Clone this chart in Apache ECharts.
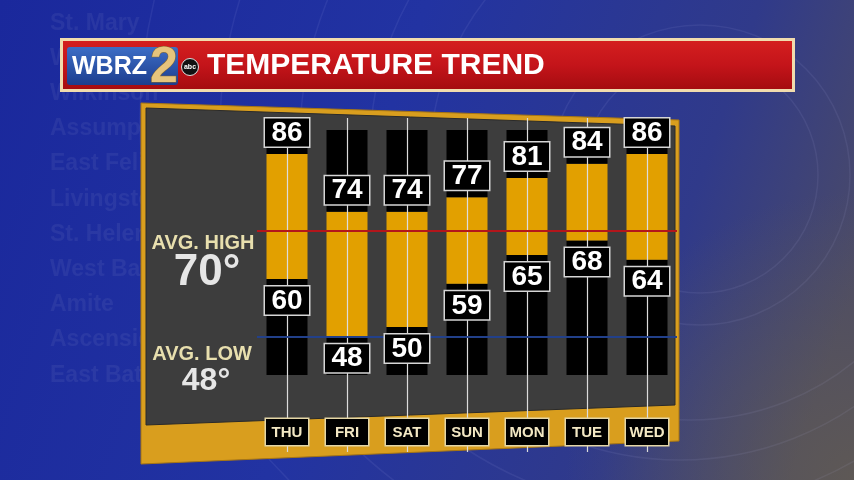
<!DOCTYPE html>
<html><head><meta charset="utf-8">
<script src="https://cdn.jsdelivr.net/npm/echarts@6/dist/echarts.min.js"></script>
<style>html,body{margin:0;padding:0;background:#1b2a9b;}#c{width:854px;height:480px;}</style>
</head><body><div id="c"></div>
<script>
// ---- data ----
const days = ['THU','FRI','SAT','SUN','MON','TUE','WED'];
const highs = [86, 74, 74, 77, 81, 84, 86];
const lows  = [60, 48, 50, 59, 65, 68, 64];
const avgHigh = 70;
const avgLow = 48;
const titleText = 'TEMPERATURE TREND';
const parishes = ['Pointe Coupee','St. Mary','West Feliciana','Wilkinson','Assumption','East Feliciana','Livingston','St. Helena','West Baton Rouge','Amite','Ascension','East Baton Rouge'];
const colBottom = 40, colTop = 91; // black column extent (temperature units)

const chart = echarts.init(document.getElementById('c'), null, {renderer:'canvas'});
const FONT = '"Liberation Sans", Arial, sans-serif';

const graphics = [];
// background
graphics.push({type:'rect', z:-30, shape:{x:0,y:0,width:854,height:480},
  style:{fill:new echarts.graphic.LinearGradient(0,0,1,0.6,[
    {offset:0,color:'#1a289c'},{offset:0.45,color:'#2233a2'},{offset:0.8,color:'#303a8a'},{offset:1,color:'#4a4a68'}])}});
graphics.push({type:'rect', z:-29, shape:{x:0,y:0,width:854,height:480},
  style:{fill:new echarts.graphic.RadialGradient(1,1,0.6,[
    {offset:0,color:'rgba(110,100,70,0.55)'},{offset:1,color:'rgba(110,100,70,0)'}])}});
// faint arcs
[[700,175,118],[700,175,150],[690,160,260],[680,150,310],[670,140,370],[660,130,440],[650,120,510]].forEach(a=>{
  graphics.push({type:'circle', z:-28, shape:{cx:a[0],cy:a[1],r:a[2]},
    style:{fill:null, stroke:'rgba(200,200,255,0.08)', lineWidth:1.5}});
});
// ghost parish names
parishes.forEach((p,i)=>{
  graphics.push({type:'text', z:-27, style:{x:50, y:-12+i*35.2, text:p, fill:'rgba(255,255,255,0.06)',
    font:'bold 23px '+FONT, textVerticalAlign:'middle'}});
});
// title bar
graphics.push({type:'rect', z:-20, shape:{x:60,y:38,width:735,height:54},
  style:{fill:'#f1dcae'}});
graphics.push({type:'rect', z:-19, shape:{x:63,y:41,width:729,height:48},
  style:{fill:new echarts.graphic.LinearGradient(0,0,0,1,[
    {offset:0,color:'#d41f1f'},{offset:0.5,color:'#c4141a'},{offset:1,color:'#a50c10'}])}});
graphics.push({type:'rect', z:-18, shape:{x:67,y:47,width:111,height:38,r:3},
  style:{fill:new echarts.graphic.LinearGradient(0,0,0,1,[
    {offset:0,color:'#3d6ec6'},{offset:1,color:'#1c3d8e'}])}});
graphics.push({type:'text', z:-17, style:{x:72,y:67,text:'WBRZ',fill:'#ffffff',font:'bold 25px '+FONT,textVerticalAlign:'middle'}});
graphics.push({type:'text', z:-17, style:{x:150,y:68,text:'2',fill:'#e6c47c',
  stroke:'#8a6a2a',lineWidth:1,font:'bold 50px '+FONT,textVerticalAlign:'middle'}});
graphics.push({type:'circle', z:-17, shape:{cx:190,cy:67,r:8.5}, style:{fill:'#111',stroke:'#ddd',lineWidth:1}});
graphics.push({type:'text', z:-16, style:{x:190,y:67,text:'abc',fill:'#fff',font:'bold 7px '+FONT,textAlign:'center',textVerticalAlign:'middle'}});
graphics.push({type:'text', z:-17, style:{x:207,y:66,text:titleText,fill:'#ffffff',font:'bold 30px '+FONT,textVerticalAlign:'middle'}});
// panel
graphics.push({type:'polygon', z:-10, shape:{points:[[141,103],[679,120],[679,441],[141,464]]},
  style:{fill:'#d99e1e', stroke:'#a87612', lineWidth:1}});
graphics.push({type:'polygon', z:-9, shape:{points:[[146,108],[675,126],[675,405],[146,425]]},
  style:{fill:'#3d3d3d', stroke:'#2a2a2a', lineWidth:1}});
// average labels
graphics.push({type:'text', z:-8, style:{x:203,y:243,text:'AVG. HIGH',fill:'#e8dfae',font:'bold 20px '+FONT,textAlign:'center',textVerticalAlign:'middle'}});
graphics.push({type:'text', z:-8, style:{x:207,y:273,text:avgHigh+'°',fill:'#e6e6e6',font:'bold 44px '+FONT,textAlign:'center',textVerticalAlign:'middle'}});
graphics.push({type:'text', z:-8, style:{x:202,y:354,text:'AVG. LOW',fill:'#e8dfae',font:'bold 20px '+FONT,textAlign:'center',textVerticalAlign:'middle'}});
graphics.push({type:'text', z:-8, style:{x:206,y:381,text:avgLow+'°',fill:'#e6e6e6',font:'bold 32px '+FONT,textAlign:'center',textVerticalAlign:'middle'}});

const boxLabel = {
  show:true, color:'#ffffff', fontFamily:FONT, fontWeight:'bold', fontSize:28, lineHeight:27,
  backgroundColor:'#000000', borderColor:'#d6d6d6', borderWidth:1.5, padding:[1,2,0,2],
  width:40, align:'center', opacity:1
};

const option = {
  animation:false,
  graphic: graphics,
  grid:{left:257, right:177, top:118, bottom:28},
  xAxis:{type:'category', data:days, z:30, zlevel:1,
    axisLine:{show:false}, axisTick:{show:false}, splitLine:{show:false},
    axisLabel:{margin:-33, color:'#f3e8c4', fontFamily:FONT, fontWeight:'bold', fontSize:15, lineHeight:15,
      backgroundColor:'#000000', borderColor:'#e4d6a6', borderWidth:1.5, padding:[6,2,5,2], width:38, align:'center'}},
  yAxis:{type:'value', min:24, max:93.5, show:false, splitLine:{show:false}},
  series:[
    {type:'bar', stack:'t', z:1, barWidth:41, silent:true, itemStyle:{color:'rgba(0,0,0,0)'},
      data: days.map(()=>colBottom)},
    {type:'bar', stack:'t', z:1, barWidth:41, silent:true, itemStyle:{color:'#000000'},
      data: lows.map(v=>v-colBottom)},
    {type:'bar', stack:'t', z:1, barWidth:41, silent:true, itemStyle:{color:'#e2a000'},
      data: highs.map((h,i)=>h-lows[i])},
    {type:'bar', stack:'t', z:1, barWidth:41, silent:true, itemStyle:{color:'#000000'},
      data: highs.map(h=>colTop-h)},
    {type:'scatter', z:2, symbolSize:0, silent:true, data: highs, itemStyle:{opacity:1},
      markLine:{silent:true, z:2, symbol:['none','none'], label:{show:false},
        data:[
          ...days.map(d=>({xAxis:d, lineStyle:{color:'#dcdcdc', width:1.2, type:'solid'}})),
          {yAxis:avgHigh, lineStyle:{color:'#b3161b', width:2, type:'solid'}},
          {yAxis:avgLow, lineStyle:{color:'#22408a', width:2, type:'solid'}}
        ]}},
    {type:'scatter', z:20, zlevel:1, symbolSize:1, silent:true, data: highs, itemStyle:{opacity:1, color:'rgba(0,0,0,0)'},
      label:Object.assign({}, boxLabel, {position:'top', distance:7, formatter:p=>String(highs[p.dataIndex])})},
    {type:'scatter', z:20, zlevel:1, symbolSize:1, silent:true, data: lows, itemStyle:{opacity:1, color:'rgba(0,0,0,0)'},
      label:Object.assign({}, boxLabel, {position:'bottom', distance:7, formatter:p=>String(lows[p.dataIndex])})}
  ]
};
chart.setOption(option);
</script>
</body></html>
